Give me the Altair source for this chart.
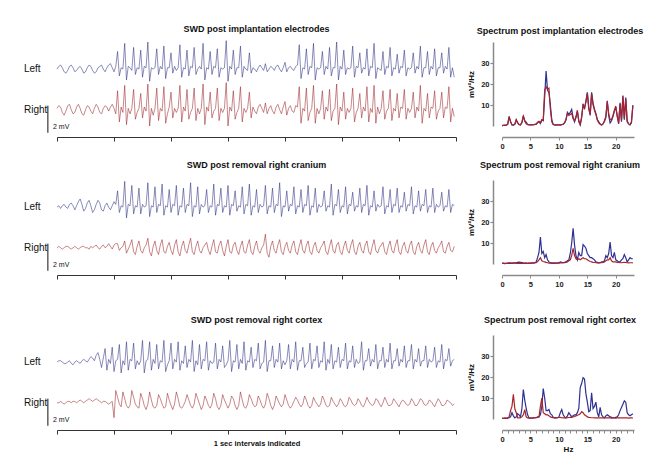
import altair as alt
import pandas as pd
import numpy as np

FS = 32

# ---------------- Row 1: SWD post implantation electrodes ----------------
L1_pre = [0,.2,.3,.1,-.2,-.3,-.1,.2,.3,.1,-.2,-.1,.1,.2,0,-.3,-.2,.1,.3,.2,-.1,-.3,-.2,.1,.2,.3,0,-.2,.1,.3,.4,.1,-.2,.2]
L1_burst1 = [1.3,-.5,.1,0, 1.9,-.8,.2,.1,-.1, 1.6,-.4,.1,0, 1.4,-.6,.2,.1, 2.0,-.9,.1,0,.1, 1.5,-.4,.2,0,
             1.7,-.7,.1,.1, 1.2,-.3,.2,-.1,.1, 1.8,-.6,.1,0, 1.4,-.5,.2,.1, 1.6,-.4,0,.2,0, 1.9,-.8,.1,0,
             1.3,-.4,.2,.1, 1.5,-.6,.1,0,.1, 2.1,-.9,.2,0, 1.4,-.4,.1,.1, 1.7,-.6,.2,0,-.1, 1.2,-.3,.1,0]
L1_pause = [-.2,.1,.3,.1,-.1,.4,-.2,0,.2,.1,-.1,.2,.3,0,-.2,.1,.5,-.2,.1,.2,0,-.1,.2,.3]
L1_burst2 = [1.8,-.7,.1,0, 1.5,-.4,.2,.1, 1.9,-.8,.1,0,.1, 1.3,-.4,.2,0, 1.6,-.5,.1,.1, 2.0,-.8,.2,0,
             1.4,-.4,.1,0,.1, 1.7,-.6,.2,.1, 1.2,-.3,.1,0, 1.5,-.5,.2,.1, 1.9,-.7,.1,0,-.1, 1.3,-.4,.2,.1,
             1.6,-.5,.1,0, 1.1,-.3,.2,.1, 1.4,-.5,.1,0,.1, 1.2,-.3,.2,0, 1.7,-.6,.1,.1, 1.3,-.4,.2,0,
             1.5,-.5,.1,.1, 1.2,-.3,.2,0, 1.6,-.6,.1,-.6]

R1_pre = [.1,.3,.2,-.2,-.4,-.1,.3,.4,0,-.3,-.2,.2,.4,.1,-.3,-.4,0,.3,.2,-.1,-.3,.1,.4,.2,-.2,-.3,.1,.3,.2,-.1,.2,.4,.1,-.3]
R1_burst1 = [1.4,-.9,.2,-.2, 1.8,-1.1,.1,-.3,.1, 1.5,-.7,-.2,.1, 1.2,-.6,.2,-.1, 1.9,-1.2,.1,-.4,.1, 1.6,-.8,.1,-.1,
             1.7,-1.0,-.3,.2, 1.3,-.6,.1,-.2,.1, 1.8,-.9,.2,-.1, 1.5,-.7,-.2,.1, 1.6,-.8,.1,-.3,.1, 1.9,-1.1,.2,-.1,
             1.3,-.6,-.1,.1, 1.6,-.8,.1,-.2,.1, 2.0,-1.2,.2,-.1, 1.4,-.7,-.2,.1, 1.7,-.9,.1,-.2,.1, 1.3,-.6,.2,-.1]
R1_pause = [-.3,.2,.4,.1,-.2,.5,-.3,.1,.3,-.1,-.3,.2,.4,0,-.3,.2,.6,-.4,.1,.3,-.1,-.2,.3,.2]
R1_burst2 = [1.7,-1.0,.1,-.1, 1.6,-.8,-.2,.1, 1.8,-1.0,.1,-.3,.1, 1.4,-.7,.2,-.1, 1.5,-.8,-.1,.1, 1.9,-1.1,.2,-.1,
             1.3,-.7,.1,-.2,.1, 1.6,-.9,-.2,.1, 1.2,-.6,.2,-.1, 1.7,-.9,.1,-.2, 1.8,-1.0,.2,-.3,.1, 1.4,-.7,-.1,.1,
             1.5,-.8,.1,-.1, 1.2,-.6,.2,.1, 1.5,-.7,.1,-.2,.1, 1.3,-.6,.2,-.1, 1.8,-1.0,.1,-.1, 1.2,-.6,.2,.1,
             1.4,-.7,-.1,.1, 1.3,-.6,.2,.1, 1.7,-.9,.1,-.5]

# ---------------- Row 2: SWD post removal right cranium ----------------
L2_pre = [0,.1,-.1,.1,.2,0,-.1,.2,.3,.1,-.2,.1,.4,.6,.2,-.3,-.1,.3,.5,.1,-.4,-.2,.2,.5,.3,-.2,-.3,.1,.3,0,-.2,.1,.4,.2]
L2_burst = [1.2,-.4,.1,0, 1.9,-.8,.2,.1, 1.6,-.5,.1,0, 1.4,-.5,.2,0,.1, 1.8,-.7,.1,0, 1.5,-.4,.2,.1,
            1.7,-.6,.1,0, 1.3,-.4,.2,.1, 1.6,-.6,.1,0, 1.4,-.4,.2,.1, 1.8,-.7,.1,0, 1.5,-.5,.2,0,.1,
            1.3,-.4,.1,0, 1.7,-.6,.2,.1, 1.4,-.4,.1,0, 1.6,-.6,.2,.1, 1.2,-.3,.1,0, 1.5,-.5,.2,.1,
            1.7,-.6,.1,0, 1.3,-.4,.2,0,.1, 1.6,-.5,.1,0, 1.4,-.4,.2,.1, 1.8,-.7,.1,0, 1.2,-.3,.2,.1,
            1.5,-.5,.1,0, 1.3,-.4,.2,.1, 1.6,-.6,.1,0, 1.4,-.4,.2,0,.1, 1.2,-.3,.1,0, 1.7,-.6,.2,.1,
            1.3,-.4,.1,0, 1.5,-.5,.2,.1, 1.1,-.3,.1,0, 1.4,-.4,.2,.1, 1.6,-.6,.1,0, 1.2,-.3,.2,0,.1,
            1.5,-.5,.1,0, 1.3,-.4,.2,.1, 1.4,-.4,.1,0, 1.1,-.3,.2,.1, 1.5,-.5,.1,0, 1.2,-.3,.2,.1,
            1.3,-.4,.1,0, 1.4,-.4,.2,0,.1, 1.1,-.3,.1,0, 1.3,-.4,.2,.1]

R2_pre = [0,.1,0,-.1,0,.1,.1,0,-.1,0,.1,0,-.1,0,.1,.1,0,0,-.1,.1,0,.1,.2,0,-.1,.1,.2,0,.1,.3,.1,-.1,.2,.3]
R2_burst = [.3,-.2,0,.1, .5,-.4,-.1,.2, .6,-.3,-.5,.1, .5,-.2,-.4,0,.2, .7,-.3,-.6,.1, .5,-.2,-.5,.2,
            .6,-.3,-.4,.1, .4,-.2,-.5,.2, .6,-.3,-.6,.1, .5,-.2,-.4,.2, .7,-.3,-.5,.1, .5,-.2,-.4,0,.2,
            .4,-.2,-.5,.1, .6,-.3,-.4,.2, .5,-.2,-.6,.1, .6,-.3,-.4,.2, .4,-.2,-.5,.1, .5,-.3,-.4,.2,
            .6,-.3,-.5,.1, .5,-.2,-.4,0,.2, 1.0,-.4,-.7,.1, .5,-.2,-.4,.2, .6,-.3,-.5,.1, .4,-.2,-.4,.2,
            .5,-.3,-.5,.1, .6,-.2,-.4,.2, .5,-.3,-.5,.1, .4,-.2,-.4,0,.2, .5,-.3,-.5,.1, .6,-.2,-.4,.2,
            .4,-.3,-.5,.1, .5,-.2,-.4,.2, .6,-.3,-.5,.1, .4,-.2,-.4,.2, .5,-.3,-.5,.1, .6,-.2,-.4,0,.2,
            .4,-.3,-.5,.1, .5,-.2,-.4,.2, .6,-.3,-.5,.1, .4,-.2,-.4,.2, .5,-.3,-.5,.1, .4,-.2,-.4,.2,
            .6,-.3,-.5,.1, .4,-.2,-.4,0,.2, .5,-.3,-.4,.1, .4,-.2,-.3,.1]

# ---------------- Row 3: SWD post removal right cortex ----------------
L3_pre = [0,.1,.1,0,-.1,-.1,0,.1,-.1,-.2,0,.1,0,-.1,.1,.2,.1,0,.2,.4,.3,.1,.5,.7,.2,-.4,.3]
L3_burst = [1.0,-.6,.2,-.1, 1.1,-.7,.1,.2, 1.3,-.8,.1,-.2, 1.5,-.6,.2,.1, 1.4,-.5,.1,-.2,.1, 1.6,-.8,.1,.2,
            1.5,-.6,.2,-.1, 1.3,-.5,.1,0, 1.6,-.7,-.2,.1, 1.4,-.5,.2,0, 1.5,-.6,.1,-.1, 1.2,-.4,.2,0,
            1.6,-.7,.1,-.2, 1.3,-.5,.2,.1, 1.5,-.6,.1,-.1,0, 1.4,-.5,.2,0, 1.2,-.4,-.2,.1, 1.6,-.7,.1,0,
            1.3,-.5,.2,-.1, 1.5,-.6,.1,0, 1.1,-.4,.2,.1, 1.4,-.5,-.1,0, 1.6,-.7,.1,.1, 1.2,-.4,.2,0,
            1.4,-.5,.1,-.2,.1, 1.3,-.5,.2,0, 1.5,-.6,.1,.1, 1.1,-.4,-.1,0, 1.4,-.5,.2,.1, 1.2,-.4,.1,0,
            1.5,-.6,.2,-.1, 1.3,-.5,.1,0, 1.1,-.4,.2,.1, 1.4,-.5,.1,0, 1.2,-.4,.2,-.1,0, 1.5,-.6,.1,.1,
            1.0,-.3,.2,0, 1.3,-.5,.1,.1, 1.1,-.4,.2,0, 1.4,-.5,.1,.1, 1.0,-.3,.2,0, 1.2,-.4,.1,.1,
            1.3,-.5,.2,0, 1.0,-.3,.1,.1, 1.2,-.4,.2,0,.1, 1.1,-.4,.1,0, 1.3,-.5,.2,.1, 1.0,-.3,.1,.2]

R3_pre = [0,0,.1,0,-.1,0,.1,.1,0,.1,.1,0,.1,.2,.1,0,.1,.2,.3,.2,.1,.2,.3,.2,.1,0,.1,.1,0,-.1,0,.1]
R3_waves = [-1.1,.9,.4,-.1,-.3, .8,.3,-.2,-.4,-.2, .9,.4,-.1,-.3,-.4, .7,.3,-.2,-.5,-.1, .8,.2,-.3,-.4,-.2,
            .6,.3,-.1,-.4,-.3, .7,.2,-.2,-.5,-.1, .8,.3,-.3,-.4,-.2,.1, .6,.2,-.2,-.4,-.1, .7,.3,-.1,-.5,-.2,
            .5,.2,-.2,-.4,-.1, .7,.3,-.3,-.5,-.2, .6,.2,-.1,-.4,-.1, .5,.3,-.2,-.5,-.2, .8,.2,-.3,-.4,-.1,
            .6,.3,-.1,-.3,-.2, .5,.2,-.2,-.4,-.1, .7,.3,-.2,-.5,-.2, .5,.2,-.1,-.3,-.1, .6,.2,-.2,-.4,-.2,.1,
            .4,.2,-.1,-.3,-.1, .5,.2,-.2,-.4,-.2, .4,.1,-.1,-.3,-.1, .5,.2,-.2,-.3,-.2, .4,.1,-.1,-.3,-.1,
            .3,.1,-.2,-.3,-.1, .4,.2,-.1,-.2,-.1, .3,.1,-.2,-.3,0, .4,.1,-.1,-.2,-.1, .3,.2,-.1,-.3,0,
            .4,.1,-.2,-.2,-.1, .3,.1,-.1,-.3,0, .2,.1,-.1,-.2,-.1, .3,.1,-.2,-.2,0, .3,.2,-.1,-.2,-.1,
            .2,.1,-.1,-.3,0, .3,.1,-.2,-.2,-.1, .2,.1,0,-.2,-.1]

# ---------------- Power spectra (mV²/Hz), 0.25 Hz bins from 0 to 23 Hz ----------------
FREQ = [round(i * 0.25, 2) for i in range(93)]
S1_blue = [.2,.3,.3,.4, .8,4.4,2.0,.5, .4,.8,2.9,1.5, .6,.5,1.5,4.6, 2.5,1.8,.8,.6, .5,.6,.5,.7,
           .8,1.5,2.0,1.2, 2.9,2.5,14.0,26.2, 17.0,16.0,10.0,3.0, .8,.5,.4,.5, .5,.4,.6,.8, 1.5,3.0,6.5,5.5,
           6.5,7.9,4.0,2.0, 4.0,7.0,2.5,.6, 4.0,10.5,8.0,12.0, 16.0,9.0,5.0,16.0, 11.0,8.0,6.0,3.0,
           2.0,1.0,.5,1.0, 2.0,4.0,12.0,5.0, 1.5,2.5,4.5,7.0, 9.0,5.0,1.0,11.0, 2.0,14.5,3.0,13.5,
           2.0,1.0,.5,1.5, 10.0]
S1_red = [.2,.3,.4,.4, .9,4.6,2.2,.6, .5,.9,3.0,1.6, .7,.6,1.8,5.0, 2.2,1.0,.6,.5, .5,.6,.6,.8,
          1.0,1.8,2.2,1.5, 3.0,2.8,17.0,18.7, 17.5,18.0,8.0,2.0, .7,.5,.5,.5, .6,.5,.7,.9, 1.6,3.2,6.0,5.0,
          5.5,6.0,3.5,2.5, 4.5,7.5,2.0,.6, 4.5,10.0,8.5,11.5, 15.5,8.0,5.5,15.5, 10.0,7.5,5.5,3.0,
          1.5,.8,.5,1.0, 2.5,4.5,11.5,6.0, 3.0,3.0,5.0,7.5, 9.5,4.5,1.5,10.5, 2.5,14.0,3.5,13.0,
          2.5,1.0,.6,2.0, 9.5]
S2_blue = [.3,.3,.2,.3, .3,.4,.3,.3, .4,.5,.6,.8, .9,.8,.7,.5, .4,.4,.3,.4, .4,.5,.5,.6,
           1.0,3.0,5.5,12.8, 5.0,6.0,3.0,4.5, 2.0,1.0,.6,.5, .4,.5,.4,.6, .5,1.0,.8,.6, .8,1.0,1.5,2.0,
           5.0,10.0,17.0,9.0, 4.0,2.0,5.5,4.0, 4.0,9.2,8.5,7.5, 5.0,4.0,3.0,3.0, 2.5,2.0,1.0,.8,
           .5,.6,1.0,1.0, 1.5,4.0,3.0,5.0, 10.5,4.0,3.0,5.5, 2.0,1.5,1.0,1.0, 2.0,2.5,4.5,3.0,
           1.0,2.0,3.0,2.5, 2.5]
S2_red = [.3,.4,.3,.3, .4,.5,.6,.4, .5,.4,.3,.3, .4,.3,.4,.3, .3,.4,.3,.4, .3,.4,.4,.5,
          .6,1.2,2.0,3.0, 1.5,1.2,1.0,.8, .6,.4,.4,.3, .4,.3,.4,.4, .4,.5,.5,.6, .6,.8,1.0,1.5,
          2.0,4.0,7.5,4.0, 2.5,2.0,2.5,2.0, 2.5,3.0,2.5,2.5, 2.0,1.5,1.2,1.0, .8,.7,.6,.5,
          .5,.6,.6,.8, 1.0,1.5,2.0,2.0, 3.0,1.5,1.0,1.0, 1.0,.8,.7,.6, .6,.7,.8,.7,
          .6,.5,.6,.6, .5]
S3_blue = [.3,.3,.4,.3, .4,.6,1.0,3.0, 1.5,.5,1.0,2.5, 2.0,1.0,5.0,14.0, 9.0,5.0,2.0,.5, .5,.4,.5,.6,
           .6,1.0,1.0,2.0, 6.0,14.5,10.0,4.0, 4.0,4.5,2.5,2.0, .8,.5,.5,.6, 1.0,3.0,4.5,2.0, 1.0,.5,1.5,3.0,
           2.0,1.0,1.5,2.0, 2.0,3.0,5.0,15.0, 17.0,19.7,19.0,12.0, 8.0,3.5,4.0,12.5, 5.0,6.0,8.0,3.0,
           1.0,5.5,2.0,1.0, .5,1.5,2.0,1.5, 1.0,.8,.5,.6, .8,1.0,2.0,4.0, 5.5,7.0,8.7,8.0,
           3.0,2.0,1.5,2.0, 2.5]
S3_red = [.3,.3,.4,.4, .5,1.0,4.0,6.0, 11.7,5.0,3.0,.5, .5,.6,1.0,2.0, 4.5,1.0,.5,.4, .4,.4,.5,.5,
          .6,.8,1.0,6.0, 10.0,3.0,2.5,2.0, 2.0,1.5,1.0,.8, .6,.5,.5,.6, .7,.8,.6,.5, .6,.5,.6,.7,
          .8,.8,1.0,1.2, 1.5,1.8,2.0,2.5, 3.5,3.0,2.0,1.5, 1.0,.8,.7,.6, .6,.5,.5,.6,
          .5,.5,.6,.5, .5,.6,.5,.5, .5,.4,.5,.5, .4,.5,.5,.6, .5,.5,.6,.5,
          .5,.4,.5,.5, .4]

TITLES_SWD = ["SWD post implantation electrodes", "SWD post removal right cranium", "SWD post removal right cortex"]
TITLES_SPEC = ["Spectrum post implantation electrodes", "Spectrum post removal right cranium",
               "Spectrum post removal right cortex"]
CHANNELS = ["Left", "Right"]
SECOND_TICKS = list(range(8))

FONT = "Liberation Sans"
C_LEFT = "#2b2d7e"
C_RIGHT = "#9b2327"
C_BLUE = "#2e3192"
C_RED = "#a8242a"
AX_GREY = "#8a8a8a"

LEFT_OFFSET = 3.0  # vertical separation of the Left channel (mV)


def trace_df(vals):
    return pd.DataFrame({"t": np.arange(len(vals)) / FS, "v": vals})


def trace_panel(title, left, right, xtitle=None, toff=8):
    xscale = alt.Scale(domain=[0, 7], nice=False, zero=False)
    yscale = alt.Scale(domain=[-1.2, 5.0], nice=False, zero=False)
    xaxis = alt.Axis(values=SECOND_TICKS, labels=False, tickSize=4, offset=11, grid=False,
                     domainColor="#333", tickColor="#333", domainWidth=1, tickWidth=1,
                     title=xtitle, titleFont=FONT, titleFontSize=7.5, titleFontWeight="bold",
                     titleColor="#111", titlePadding=5)
    X = alt.X("t:Q", scale=xscale, axis=xaxis)
    right_line = alt.Chart(trace_df(right)).mark_line(color=C_RIGHT, strokeWidth=0.55).encode(
        x=X, y=alt.Y("v:Q", scale=yscale, axis=None))
    left_line = alt.Chart(trace_df(left)).transform_calculate(
        y=f"datum.v + {LEFT_OFFSET}").mark_line(color=C_LEFT, strokeWidth=0.55).encode(
        x=X, y=alt.Y("y:Q", scale=yscale, axis=None))
    lab_df = pd.DataFrame({"t": [-0.58, -0.58], "y": [LEFT_OFFSET, 0.0], "lab": CHANNELS})
    labels = alt.Chart(lab_df).mark_text(align="left", baseline="middle", fontSize=10, font=FONT,
                                         color="#111").encode(
        x=X, y=alt.Y("y:Q", scale=yscale, axis=None), text="lab:N")
    bar_df = pd.DataFrame({"t": [-0.16], "y": [-1.7], "y2": [0.3]})
    bar = alt.Chart(bar_df).mark_rule(color="#111", strokeWidth=1).encode(
        x=X, y=alt.Y("y:Q", scale=yscale, axis=None), y2="y2:Q")
    bt_df = pd.DataFrame({"t": [-0.07], "y": [-1.25], "lab": ["2 mV"]})
    bar_text = alt.Chart(bt_df).mark_text(align="left", baseline="middle", fontSize=7, font=FONT,
                                          color="#111").encode(
        x=X, y=alt.Y("y:Q", scale=yscale, axis=None), text="lab:N")
    return alt.layer(right_line, left_line, labels, bar, bar_text).properties(
        width=399, height=84,
        title=alt.TitleParams(title, fontSize=9, fontWeight="bold", font=FONT, offset=toff,
                              anchor="middle", frame="group", color="#111"))


def spec_panel(title, blue, red, minor=False, xtitle=None, toff=8):
    df = pd.DataFrame({"f": FREQ, "blue": blue, "red": red})
    xvals = list(range(24)) if minor else [0, 5, 10, 15, 20]
    xaxis = alt.Axis(values=xvals, labelExpr="datum.value % 5 == 0 ? datum.label : ''",
                     offset=11, tickSize=3, grid=False, domainColor=AX_GREY, tickColor=AX_GREY,
                     domainWidth=1.5, tickWidth=1, labelFont=FONT, labelFontSize=7.5,
                     labelFontWeight="bold", labelColor="#222", labelPadding=2, labelFlush=False,
                     title=xtitle, titleFont=FONT, titleFontSize=8, titleFontWeight="bold",
                     titleColor="#111", titlePadding=3)
    yaxis = alt.Axis(values=[10, 20, 30], offset=9, tickSize=3, grid=False, domainColor=AX_GREY,
                     tickColor=AX_GREY, domainWidth=1.5, tickWidth=1.2, labelFont=FONT,
                     labelFontSize=7.5, labelFontWeight="bold", labelColor="#222", labelPadding=1,
                     title="mV²/Hz", titleFont=FONT, titleFontSize=8, titleFontWeight="bold",
                     titleColor="#111", titlePadding=5)
    X = alt.X("f:Q", scale=alt.Scale(domain=[0, 23.2], nice=False, zero=False), axis=xaxis)
    ys = alt.Scale(domain=[0, 40], nice=False)
    b = alt.Chart(df).mark_line(color=C_BLUE, strokeWidth=1.2).encode(
        x=X, y=alt.Y("blue:Q", scale=ys, axis=yaxis))
    r = alt.Chart(df).mark_line(color=C_RED, strokeWidth=1.2).encode(
        x=X, y=alt.Y("red:Q", scale=ys, axis=yaxis))
    return alt.layer(b, r).properties(
        width=132, height=84,
        title=alt.TitleParams(title, fontSize=9, fontWeight="bold", font=FONT, offset=toff,
                              anchor="middle", frame="group", dx=-8, color="#111"))


row1 = alt.hconcat(trace_panel(TITLES_SWD[0], L1_pre + L1_burst1 + L1_pause + L1_burst2,
                               R1_pre + R1_burst1 + R1_pause + R1_burst2, toff=6),
                   spec_panel(TITLES_SPEC[0], S1_blue, S1_red, toff=6), spacing=10)
row2 = alt.hconcat(trace_panel(TITLES_SWD[1], L2_pre + L2_burst, R2_pre + R2_burst, toff=10),
                   spec_panel(TITLES_SPEC[1], S2_blue, S2_red, toff=10), spacing=10)
row3 = alt.hconcat(trace_panel(TITLES_SWD[2], L3_pre + L3_burst, R3_pre + R3_waves,
                               xtitle="1 sec intervals indicated", toff=10),
                   spec_panel(TITLES_SPEC[2], S3_blue, S3_red, minor=True, xtitle="Hz", toff=10),
                   spacing=10)

chart = alt.vconcat(alt.vconcat(row1, row2, spacing=11), row3, spacing=28).properties(
    padding={"left": 15, "top": 16, "right": 5, "bottom": 5}, background="white"
).configure(font=FONT, view=alt.ViewConfig(stroke=None))

chart.save("out.html", embed_options={"renderer": "svg", "actions": False})
